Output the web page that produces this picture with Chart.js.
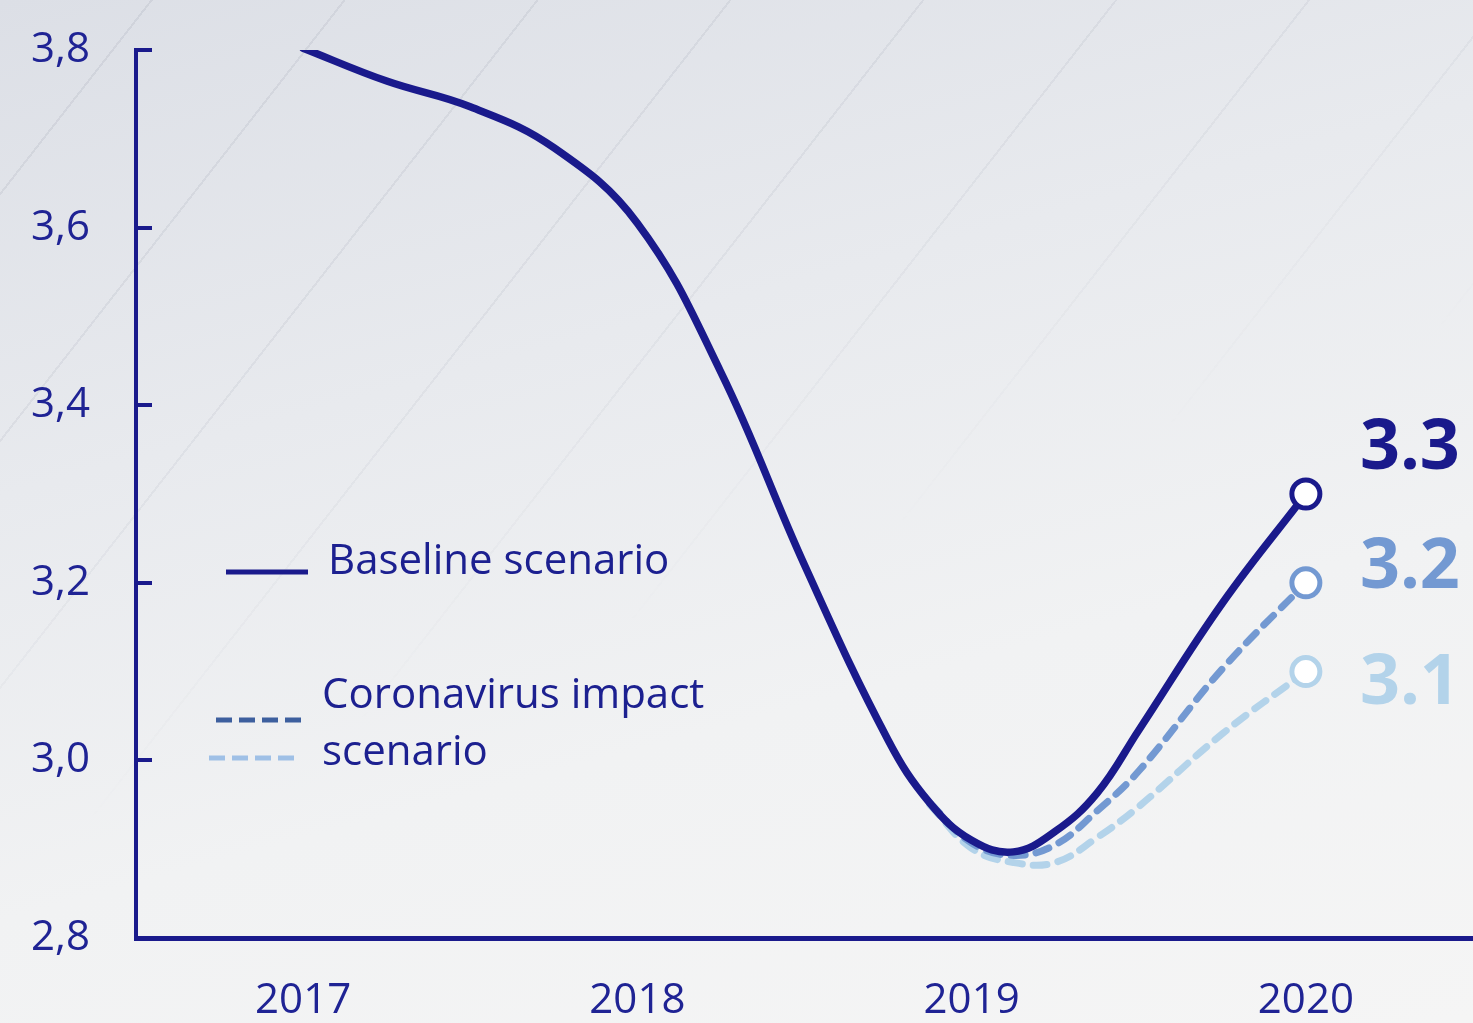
<!DOCTYPE html>
<html>
<head>
<meta charset="utf-8">
<script src="https://cdn.jsdelivr.net/npm/chart.js@4/dist/chart.umd.min.js"></script>
<style>
    html, body {
        margin: 0;
        padding: 0;
        width: 1473px;
        height: 1023px;
        overflow: hidden;
    }
    body {
        background: linear-gradient(165deg, #dcdfe6 0%, #e8eaee 35%, #f1f2f3 65%, #f5f5f5 100%);
        position: relative;
    }
    /* faint diagonal streaks in the background */
    .streaks {
        position: absolute;
        left: 0; top: 0;
        width: 1473px; height: 1023px;
        background: repeating-linear-gradient(-52deg, rgba(255,255,255,0) 0 150px, rgba(190,194,204,0.45) 150px 152px);
        -webkit-mask-image: linear-gradient(160deg, rgba(0,0,0,1) 0%, rgba(0,0,0,0.6) 30%, rgba(0,0,0,0) 55%);
        mask-image: linear-gradient(160deg, rgba(0,0,0,1) 0%, rgba(0,0,0,0.6) 30%, rgba(0,0,0,0) 55%);
    }
    canvas {
        position: absolute;
        left: 0; top: 0;
    }
</style>
</head>
<body>
<div class="streaks"></div>
<canvas id="chart" width="1473" height="1023"></canvas>
<script>
// 축 눈금
const years = [2017, 2018, 2019, 2020];
const yTicks = [2.8, 3.0, 3.2, 3.4, 3.6, 3.8];

// 기본 시나리오
const baselineX = [2017, 2017.25, 2017.5, 2017.75, 2018, 2018.25, 2018.5, 2018.75, 2018.875, 2019, 2019.125, 2019.25, 2019.375, 2019.5, 2019.75, 2020];
const baselineY = [3.802, 3.765, 3.736, 3.690, 3.605, 3.437, 3.220, 3.023, 2.952, 2.910, 2.897, 2.920, 2.963, 3.034, 3.177, 3.3];

// 코로나 영향 시나리오 (두 가지)
const covidHighX = [2018.875, 2019, 2019.125, 2019.25, 2019.375, 2019.5, 2019.75, 2020];
const covidHighY = [2.952, 2.907, 2.893, 2.905, 2.943, 2.988, 3.103, 3.2];
const covidLowX = [2018.875, 2019, 2019.125, 2019.25, 2019.375, 2019.5, 2019.75, 2020];
const covidLowY = [2.950, 2.901, 2.885, 2.885, 2.913, 2.948, 3.030, 3.1];

const legendLabels = ['Baseline scenario', 'Coronavirus impact', 'scenario'];

const NAVY = '#1a1a8c';
const MID = '#7399d2';
const LIGHT = '#b3d3ea';
const FONT = "'Open Sans', 'Noto Sans', sans-serif";

const toPoints = (xs, ys) => xs.map((x, i) => ({ x: x, y: ys[i] }));

// 마지막 점에만 원형 마커
const lastOnly = (r) => (ctx) => ctx.dataIndex === ctx.dataset.data.length - 1 ? r : 0;

function lineDataset(label, xs, ys, color, dash, nudge, order) {
    return {
        label: label,
        data: toPoints(xs, ys),
        borderColor: color,
        borderWidth: dash ? 7 : 7.5,
        borderDash: dash || [],
        borderCapStyle: 'round',
        tension: 0.4,
        pointRadius: lastOnly(14),
        pointHoverRadius: lastOnly(14),
        pointBackgroundColor: '#ffffff',
        pointBorderColor: color,
        pointBorderWidth: 5,
        labelNudge: nudge,
        order: order
    };
}

// 오른쪽 끝 값 라벨
const endLabelPlugin = {
    id: 'endLabels',
    afterDatasetsDraw(chart) {
        const ctx = chart.ctx;
        ctx.save();
        ctx.font = 'bold 70px ' + FONT;
        ctx.textAlign = 'left';
        ctx.textBaseline = 'middle';
        chart.data.datasets.forEach((ds, i) => {
            const meta = chart.getDatasetMeta(i);
            const el = meta.data[meta.data.length - 1];
            const value = ds.data[ds.data.length - 1].y;
            ctx.fillStyle = ds.borderColor;
            ctx.fillText(value.toFixed(1), el.x + 54, el.y + ds.labelNudge);
        });
        ctx.restore();
    }
};

// 안쪽으로 향하는 y축 눈금 표시
const innerTicksPlugin = {
    id: 'innerTicks',
    afterDraw(chart) {
        const ctx = chart.ctx;
        const y = chart.scales.y;
        ctx.save();
        ctx.strokeStyle = NAVY;
        ctx.lineWidth = 4;
        y.ticks.forEach(t => {
            const py = Math.round(y.getPixelForValue(t.value));
            ctx.beginPath();
            ctx.moveTo(y.right - 2, py);
            ctx.lineTo(y.right + 16, py);
            ctx.stroke();
        });
        ctx.restore();
    }
};

// 차트 내부 범례
const legendPlugin = {
    id: 'customLegend',
    afterDraw(chart) {
        const ctx = chart.ctx;
        ctx.save();
        ctx.lineWidth = 5;
        ctx.strokeStyle = NAVY;
        ctx.beginPath();
        ctx.moveTo(226, 572);
        ctx.lineTo(308, 572);
        ctx.stroke();

        ctx.setLineDash([16, 7]);
        ctx.strokeStyle = '#3d5f9e';
        ctx.beginPath();
        ctx.moveTo(216, 720);
        ctx.lineTo(302, 720);
        ctx.stroke();
        ctx.strokeStyle = '#9fc0e6';
        ctx.beginPath();
        ctx.moveTo(209, 758);
        ctx.lineTo(298, 758);
        ctx.stroke();
        ctx.setLineDash([]);

        ctx.fillStyle = '#1c2090';
        ctx.font = '42px ' + FONT;
        ctx.textAlign = 'left';
        ctx.textBaseline = 'alphabetic';
        ctx.fillText(legendLabels[0], 328, 574);
        ctx.fillText(legendLabels[1], 322, 708);
        ctx.fillText(legendLabels[2], 322, 765);
        ctx.restore();
    }
};

new Chart(document.getElementById('chart'), {
    type: 'line',
    data: {
        datasets: [
            lineDataset('Baseline scenario', baselineX, baselineY, NAVY, null, -45, 1),
            lineDataset('Coronavirus impact scenario', covidHighX, covidHighY, MID, [14, 11], -15, 2),
            lineDataset('Coronavirus impact scenario (low)', covidLowX, covidLowY, LIGHT, [14, 11], 12, 3)
        ]
    },
    options: {
        responsive: false,
        devicePixelRatio: 1,
        animation: false,
        layout: {
            autoPadding: false,
            padding: { top: 50, right: 0, bottom: 0, left: 0 }
        },
        plugins: {
            legend: { display: false },
            tooltip: { enabled: false }
        },
        scales: {
            x: {
                type: 'linear',
                min: 2016.5,
                max: 2020.5,
                afterBuildTicks: (scale) => {
                    scale.ticks = years.map(v => ({ value: v }));
                },
                afterFit: (scale) => {
                    scale.height = 85;
                    scale.paddingLeft = 0;
                    scale.paddingRight = 0;
                },
                grid: { display: false, drawTicks: false },
                border: { color: NAVY, width: 5 },
                ticks: {
                    color: '#1f2394',
                    font: { family: FONT, size: 42 },
                    padding: 38,
                    maxRotation: 0,
                    callback: (v) => String(v)
                }
            },
            y: {
                min: 2.8,
                max: 3.8,
                afterBuildTicks: (scale) => {
                    scale.ticks = yTicks.map(v => ({ value: v }));
                },
                afterFit: (scale) => {
                    scale.width = 136;
                    scale.paddingTop = 0;
                    scale.paddingBottom = 0;
                },
                grid: { display: false, drawTicks: false },
                border: { color: NAVY, width: 4 },
                ticks: {
                    color: '#1f2394',
                    font: { family: FONT, size: 42 },
                    padding: 46,
                    callback: (v) => v.toFixed(1).replace('.', ',')
                }
            }
        }
    },
    plugins: [endLabelPlugin, innerTicksPlugin, legendPlugin]
});
</script>
</body>
</html>
